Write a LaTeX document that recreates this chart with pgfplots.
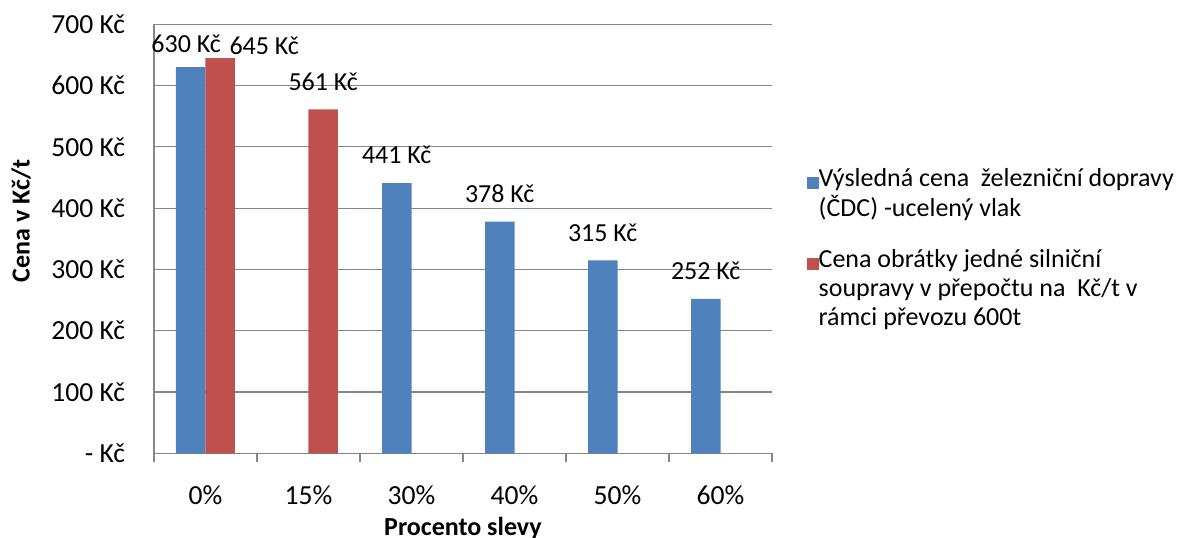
\documentclass[border=0pt]{standalone}
\usepackage{fontspec}
\setmainfont{Carlito}
\usepackage{pgfplots}
\usepackage{pgfplotstable}
\pgfplotsset{compat=1.18}
\definecolor{cblue}{RGB}{79,129,189}
\definecolor{cred}{RGB}{192,80,77}
\definecolor{cgrid}{RGB}{134,134,134}

\pgfplotstableread{
x y dx dy
0 630 -2.3 -2.35
2 441 0 0
3 378 0 0
4 315 0 0
5 252 0 0
}\railtable
\pgfplotstableread{
x y dx dy
0 645 22 -7.75
1 561 0 0
}\roadtable

\begin{document}
\begin{tikzpicture}[font=\fontsize{13}{14.5}\selectfont]
\useasboundingbox (-77pt,-41.85pt) rectangle (518pt,226.65pt);
\begin{axis}[
  at={(0,0)}, anchor=south west,
  scale only axis, width=309pt, height=214.5pt,
  /pgf/number format/assume math mode=true,
  ybar=0pt, bar width=14.75pt,
  xmin=-0.5, xmax=5.5, ymin=0, ymax=700,
  xtick={-0.5,0.5,...,5.5}, x tick label as interval,
  xticklabels={0\%,15\%,30\%,40\%,50\%,60\%},
  ytick={0,100,...,700},
  yticklabels={- Kč,100 Kč,200 Kč,300 Kč,400 Kč,500 Kč,600 Kč,700 Kč},
  axis x line*=bottom, axis y line*=left,
  tick align=outside, major tick length=4.5pt,
  axis line style={cgrid, line width=0.6pt, -},
  xtick style={cgrid, line width=0.6pt},
  ytick style={draw=none},
  ymajorgrids, grid style={cgrid, line width=0.6pt},
  yticklabel style={inner sep=0pt, anchor=east, xshift=-9.75pt, font=\fontsize{13.8}{15}\selectfont},
  xticklabel style={inner sep=0pt, anchor=north, yshift=-11.6pt, font=\fontsize{13.8}{15}\selectfont},
  every axis x label/.style={at={(axis description cs:0.5,-0.1508)}, anchor=north, inner sep=0pt, yshift=0.8pt, font=\fontsize{13}{14.5}\selectfont\bfseries},
  every axis y label/.style={at={(axis description cs:-0.2152,0.542)}, anchor=center, rotate=90, inner sep=0pt, font=\fontsize{13}{14.5}\selectfont\bfseries},
  xlabel={Procento slevy},
  ylabel={Cena v Kč/t},
  clip=false,
  nodes near coords={\pgfmathprintnumber{\pgfplotspointmeta} Kč},
  visualization depends on={\thisrow{dx} \as \dx},
  visualization depends on={\thisrow{dy} \as \dy},
  every node near coord/.append style={inner sep=0pt, anchor=south, black, xshift=\dx*1pt, yshift=9.25pt+\dy*1pt},
  legend style={draw=none, fill=none, at={(1.0561,0.6688)}, anchor=north west, inner sep=0pt, outer sep=0pt, row sep=29pt, nodes={inner sep=0pt}, /tikz/every even column/.append style={column sep=4pt}},
  legend cell align=left,
  legend image code/.code={\fill[#1] (0pt,-5.3pt) rectangle (6pt,0.7pt);},
]
\addplot[fill=cblue, draw=none] table[x=x, y=y] {\railtable};
\addlegendentry{\begin{tabular}[t]{@{}l@{}}Výsledná cena\ \ železniční dopravy\\(ČDC) -ucelený vlak\end{tabular}}
\addplot[fill=cred, draw=none] table[x=x, y=y] {\roadtable};
\addlegendentry{\begin{tabular}[t]{@{}l@{}}Cena obrátky jedné silniční\\soupravy v přepočtu na\ \ Kč/t v\\rámci převozu 600t\end{tabular}}
\end{axis}
\end{tikzpicture}
\end{document}
